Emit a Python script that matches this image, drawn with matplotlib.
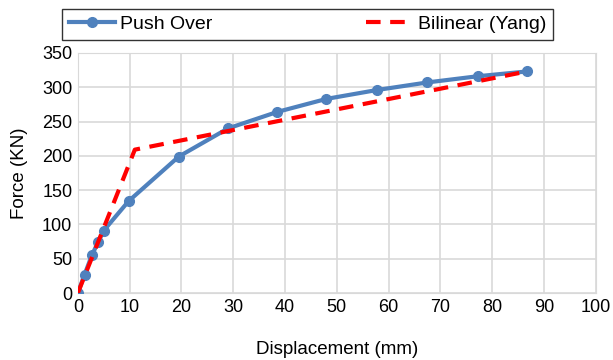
import matplotlib.pyplot as plt

plt.rcParams['font.family'] = ['Liberation Sans', 'DejaVu Sans']

# pushover curve
disp_push = [0, 1.3, 2.7, 3.9, 5.0, 9.8, 19.5, 29.0, 38.5, 48.0, 57.8, 67.5, 77.2, 86.7]
force_push = [0, 27, 55, 74, 91, 134, 199, 240, 264, 283, 296, 307, 316, 323]

# bilinear idealisation
disp_bil = [0, 11.0, 86.7]
force_bil = [0, 209, 323]

fig = plt.figure(figsize=(6.13, 3.6), dpi=100)
ax = fig.add_axes([0.127, 0.186, 0.845, 0.667])

ax.plot(disp_push, force_push, color='#4F81BD', lw=3, marker='o', ms=7,
        label='Push Over', zorder=3)
ax.plot(disp_bil, force_bil, color='#FF0000', lw=3, ls=(0, (3.5, 2.3)),
        label='Bilinear (Yang)', zorder=4)

ax.set_xlim(0, 100)
ax.set_ylim(0, 350)
ax.set_xticks(range(0, 101, 10))
ax.set_yticks(range(0, 351, 50))
ax.grid(True, color='#D9D9D9', lw=1.2)
ax.set_axisbelow(True)
for s in ax.spines.values():
    s.set_color('#D9D9D9')
ax.tick_params(length=0, labelsize=13, pad=4)

ax.set_xlabel('Displacement (mm)', fontsize=13.5, labelpad=18)
ax.set_ylabel('Force (KN)', fontsize=13.5, labelpad=10)

leg = fig.legend(loc='lower left', bbox_to_anchor=(0.101, 0.889, 0.801, 0.081),
                 mode='expand', ncol=2, fontsize=14, frameon=True, fancybox=False,
                 handlelength=2.4, borderpad=0.35, handletextpad=0.25, borderaxespad=0)
leg.get_frame().set_edgecolor('black')
leg.get_frame().set_linewidth(1.0)

fig.savefig('out.png', dpi=100)
